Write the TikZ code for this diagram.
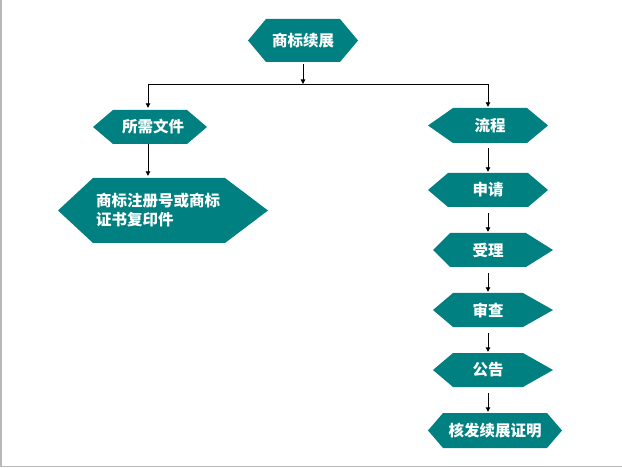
\documentclass[tikz,border=0pt]{standalone}
\usepackage{fontspec}
\setmainfont{Noto Sans CJK SC}
\usetikzlibrary{arrows.meta}
\definecolor{hexteal}{RGB}{0,128,128}
\definecolor{framegray}{RGB}{185,185,185}
\tikzset{
  hexfill/.style={fill=hexteal},
  hextext/.style={text=white, font=\bfseries\fontsize{15.5pt}{19pt}\selectfont, inner sep=0pt, draw=none},
  conn/.style={line width=0.9pt, -{Triangle[length=4.5pt,width=4.5pt]}},
  plainline/.style={line width=0.9pt},
}
\newcommand\hexnode[9][]{%
  \pgfmathsetmacro\hy{(#7+#8)/2}%
  \pgfmathsetmacro\hx{(#4+#5)/2}%
  \pgfmathsetmacro\hh{#8-#7}%
  \pgfmathsetmacro\hw{#5-#4}%
  \fill[hexfill] (#3,\hy) -- (#4,#7) -- (#5,#7) -- (#6,\hy) -- (#5,#8) -- (#4,#8) -- cycle;
  \node[hextext, minimum width=\hw pt, minimum height=\hh pt, #1] (#2) at (\hx,\hy) {#9};
}
\begin{document}
\begin{tikzpicture}[x=1pt, y=-1pt]
  \useasboundingbox (0,0) rectangle (622,468);
  \draw[framegray, line width=1.5pt] (1,0) -- (1,466.5) -- (622,466.5);
  % nodes
  \hexnode{top}{248}{266}{340}{358}{19}{62}{商标续展}
  \hexnode{docs}{93}{113}{187}{207}{110}{144}{\hspace*{6pt}所需文件}
  \hexnode[text width=126pt, align=left]{copy}{58}{93}{225}{268}{178}{243}{商标注册号或商标\\证书复印件}
  \hexnode{flow}{428}{453}{527}{548}{108}{143}{流程}
  \hexnode{apply}{428}{448}{528}{548}{173}{207}{申请}
  \hexnode{accept}{433}{450}{526}{553}{233}{267}{受理}
  \hexnode{exam}{433}{453}{523}{553}{293}{327}{审查}
  \hexnode{pub}{433}{453}{523}{553}{353}{387}{公告}
  \hexnode{cert}{428}{443}{547}{562}{413}{448}{核发续展证明}
  \coordinate (j) at (303,84);
  \coordinate (jl) at (148,84);
  \coordinate (jr) at (488,84);
  % connectors
  \draw[conn, shorten <=2pt] (top.south) -- (j);
  \draw[plainline] (jl) -- (jr);
  \draw[conn, shorten >=2pt] (jl) -- (jl |- docs.north);
  \draw[conn, shorten >=1pt] (jr) -- (jr |- flow.north);
  \draw[conn, shorten >=2pt] (jl |- docs.south) -- (jl |- copy.north);
  \draw[conn, shorten <=5pt, shorten >=1pt] (jr |- flow.south) -- (jr |- apply.north);
  \draw[conn, shorten <=6pt, shorten >=1pt] (jr |- apply.south) -- (jr |- accept.north);
  \draw[conn, shorten <=6pt, shorten >=1pt] (jr |- accept.south) -- (jr |- exam.north);
  \draw[conn, shorten <=6pt, shorten >=1pt] (jr |- exam.south) -- (jr |- pub.north);
  \draw[conn, shorten <=6pt, shorten >=1pt] (jr |- pub.south) -- (jr |- cert.north);
\end{tikzpicture}
\end{document}
